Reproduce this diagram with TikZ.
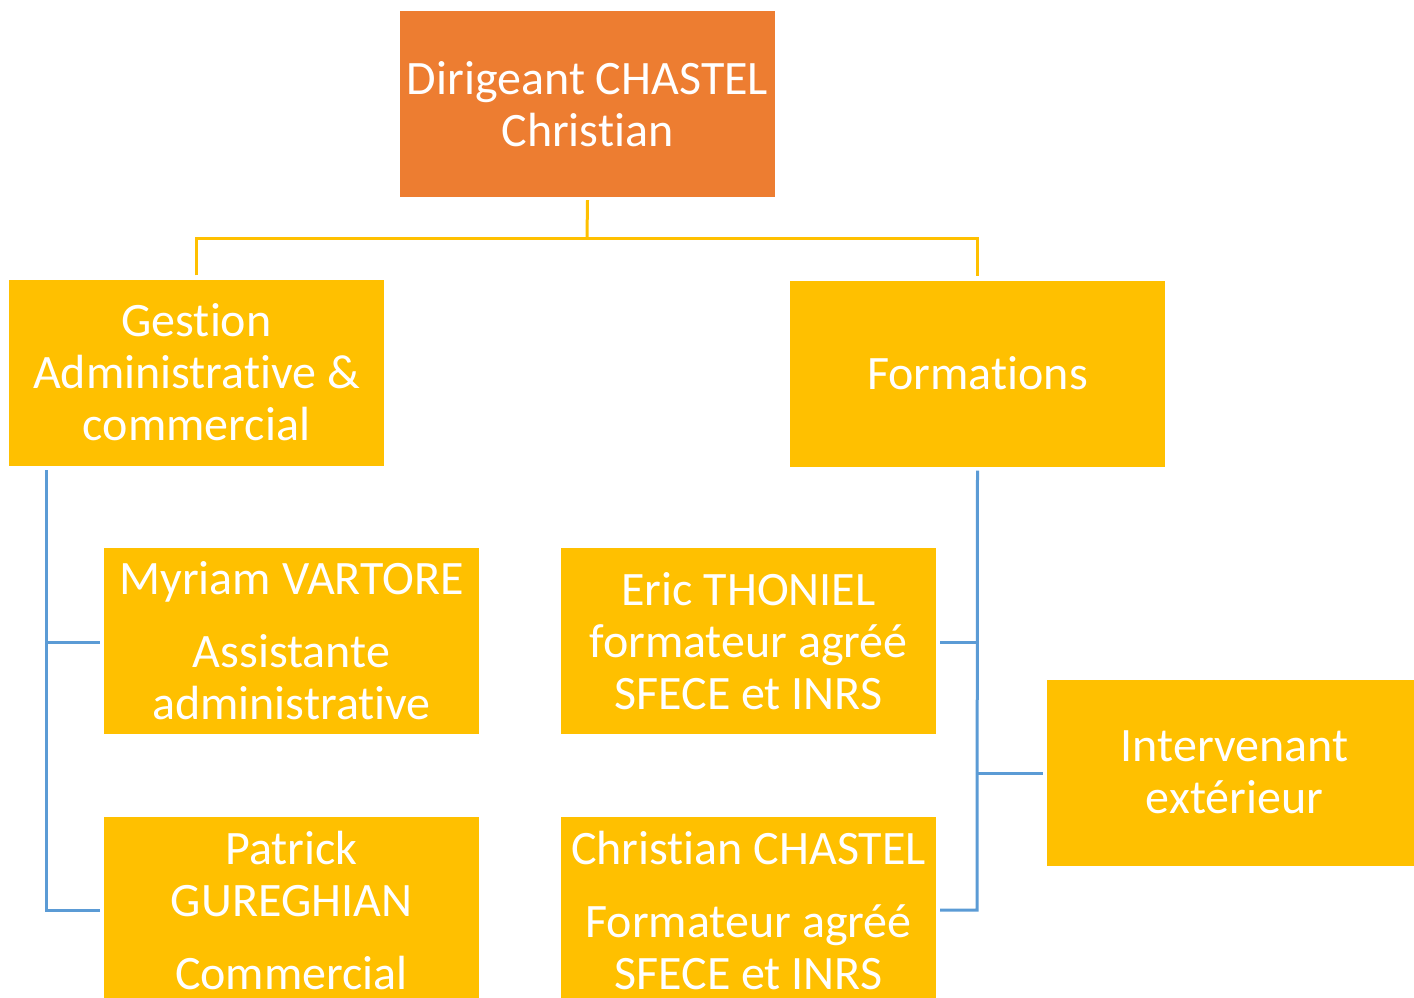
\documentclass[tikz,border=0pt]{standalone}
\usepackage{fontspec}
\setmainfont[RawFeature={-liga;-clig;-calt;-dlig}]{Carlito}
\definecolor{gold}{HTML}{FFC000}
\definecolor{orng}{HTML}{ED7D31}
\definecolor{blu}{HTML}{5B9BD5}
\begin{document}
\begin{tikzpicture}[x=1pt,y=-1pt,
  box/.style={fill=gold, draw=none, minimum width=375pt, minimum height=186pt, inner sep=0pt, text=white, align=center, font=\fontsize{48}{52}\selectfont},
  yline/.style={draw=gold, line width=3pt},
  bline/.style={draw=blu, line width=3pt}]
\useasboundingbox (0,0) rectangle (1414,997);
\begin{scope}
\clip (0,0) rectangle (1414,997);
\node[box, fill=orng] (top) at (587.5,104) {Dirigeant CHASTEL\\Christian};
\node[box] (gest) at (196.5,372.5) {Gestion\\Administrative \&\\commercial};
\node[box] (form) at (977.5,373.5) {Formations};
\node[box] (myr) at (291.5,641) {Myriam VARTORE\\[21pt]Assistante\\administrative};
\node[box] (pat) at (291.5,910) {Patrick\\GUREGHIAN\\[21pt]Commercial};
\node[box] (eric) at (748.5,641) {Eric THONIEL\\formateur agréé\\SFECE et INRS};
\node[box] (chr) at (748.5,910) {Christian CHASTEL\\[21pt]Formateur agréé\\SFECE et INRS};
\node[box] (int) at (1234.5,772.5) {Intervenant\\extérieur};
\end{scope}
\coordinate (ym) at (587,238);
\draw[yline] ([yshift=-3pt]top.south) -- (ym);
\draw[yline] ([yshift=4pt]gest.north) |- (ym) -| ([yshift=4pt]form.north);
\coordinate (lb) at (46,910);
\coordinate (rb) at (977,910);
\coordinate (lm) at (46,642);
\coordinate (rm) at (977,642);
\coordinate (ri) at (977,773);
\draw[bline] ([xshift=-4pt]myr.west |- lm) -- (lm);
\draw[bline] (46,470) -- (lb) -- ([xshift=-4pt]pat.west |- lb);
\draw[bline] ([xshift=4pt]eric.east |- rm) -- (rm);
\draw[bline] ([yshift=-4pt]form.south) -- (rb) -- ([xshift=4pt]chr.east |- rb);
\draw[bline] (ri) -- ([xshift=-4pt]int.west |- ri);
\end{tikzpicture}
\end{document}
